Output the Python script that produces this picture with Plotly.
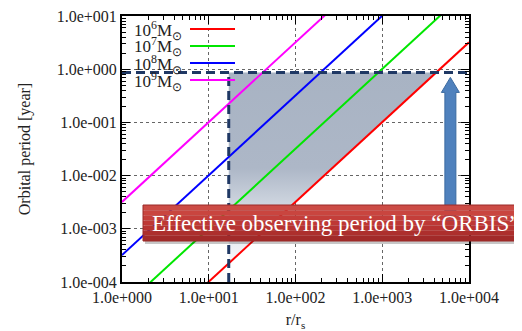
import plotly.graph_objects as go

# ---- data ----
R_ENDS = [1.0, 1.0e4]                      # r/rs at the two ends of each line
PERIOD_1E6 = [3.2e-6, 3.2]                 # orbital period [yr]
PERIOD_1E7 = [3.2e-5, 32.0]
PERIOD_1E8 = [3.2e-4, 320.0]
PERIOD_1E9 = [3.2e-3, 3200.0]
MASS_LABELS = ["10<sup>6</sup>M<sub>⊙</sub>", "10<sup>7</sup>M<sub>⊙</sub>",
               "10<sup>8</sup>M<sub>⊙</sub>", "10<sup>9</sup>M<sub>⊙</sub>"]
MASS_COLORS = ["#ff0000", "#00e600", "#0000ff", "#ff00ff"]

OBS_PERIOD = 0.87       # effective observing period limit [yr]
R_MIN = 17.0            # minimum r/rs
SHADE_R = [17.0, 4250.0, 17.0]
SHADE_T = [0.87, 0.87, 2.2e-4]
ARROW_R = 6100.0

X_TICKS = [1, 10, 100, 1000, 10000]
X_TICKTEXT = ["1.0e+000", "1.0e+001", "1.0e+002", "1.0e+003", "1.0e+004"]
Y_TICKS = [1e-4, 1e-3, 1e-2, 1e-1, 1, 10]
Y_TICKTEXT = ["1.0e-004", "1.0e-003", "1.0e-002", "1.0e-001", "1.0e+000", "1.0e+001"]

BOX_TEXT = "Effective observing period by “ORBIS”"

SERIF = "Liberation Serif"
OFF = 8                      # default page body margin in the browser
W, H = 522 - OFF, 331 - OFF
ML, MR, MT, MB = 122 - OFF, 53, 16 - OFF, 49
PW, PH = W - ML - MR, H - MT - MB


def px_x(p):
    """viewport pixel x -> paper x"""
    return (p - OFF - ML) / PW


def px_y(p):
    """viewport pixel y -> paper y"""
    return (H - MB - (p - OFF)) / PH


fig = go.Figure()

# shaded region
fig.add_trace(go.Scatter(
    x=SHADE_R, y=SHADE_T, mode="lines", fill="toself",
    line=dict(width=0, color="rgba(0,0,0,0)"),
    fillgradient=dict(type="vertical",
                      colorscale=[[0, "#f8f9fb"], [0.25, "#d9dfe7"],
                                  [0.5, "#adb7c7"], [1, "#a8b3c3"]]),
    showlegend=False, hoverinfo="skip"))

# period lines
for vals, col, lab in zip([PERIOD_1E6, PERIOD_1E7, PERIOD_1E8, PERIOD_1E9],
                          MASS_COLORS, MASS_LABELS):
    fig.add_trace(go.Scatter(x=R_ENDS, y=vals, mode="lines",
                             line=dict(color=col, width=2),
                             name=lab, showlegend=False))

# dashed limits
DASH_COL = "#1f3864"
fig.add_trace(go.Scatter(x=[R_ENDS[0], R_ENDS[1]], y=[OBS_PERIOD, OBS_PERIOD],
                         mode="lines", line=dict(color=DASH_COL, width=3, dash="9px,5px"),
                         showlegend=False))
fig.add_trace(go.Scatter(x=[R_MIN, R_MIN], y=[Y_TICKS[0], OBS_PERIOD],
                         mode="lines", line=dict(color=DASH_COL, width=3, dash="9px,5px"),
                         showlegend=False))

shapes = []
# blue arrow (pixel geometry anchored at the data point)
shapes.append(dict(type="path", xref="x", yref="y", xsizemode="pixel", ysizemode="pixel",
                   xanchor=ARROW_R, yanchor=OBS_PERIOD,
                   path="M0,-5 L9,-20 L5.5,-20 L5.5,-150 L-5.5,-150 L-5.5,-20 L-9,-20 Z",
                   fillcolor="#4f81bd", line=dict(color="#3b6aa0", width=1), layer="above"))

# red text box with shadow and a stepped gradient
bx0, bx1, by0, by1 = 143, 524, 205, 241
shapes.append(dict(type="rect", xref="paper", yref="paper",
                   x0=px_x(bx0 + 2), x1=px_x(bx1 + 2), y0=px_y(by1 + 3), y1=px_y(by0 + 3),
                   fillcolor="rgba(0,0,0,0.22)", line=dict(width=0), layer="above"))
band_cols = ["#cc4b45", "#c9453f", "#c43e3a", "#be3835", "#b73331", "#ad2f2d", "#a22a29"]
n = len(band_cols)
for i, c in enumerate(band_cols):
    shapes.append(dict(type="rect", xref="paper", yref="paper",
                       x0=px_x(bx0), x1=px_x(bx1),
                       y1=px_y(by0 + (by1 - by0) * i / n),
                       y0=px_y(by0 + (by1 - by0) * (i + 1) / n),
                       fillcolor=c, line=dict(width=0), layer="above"))
shapes.append(dict(type="rect", xref="paper", yref="paper",
                   x0=px_x(bx0), x1=px_x(bx1), y0=px_y(by1), y1=px_y(by0),
                   fillcolor="rgba(0,0,0,0)", line=dict(color="#9a2a28", width=1), layer="above"))

# manual legend lines (line sample to the right of the text, as in the reference)
legend_rows = [29, 46, 63, 80]
for row, col in zip(legend_rows, MASS_COLORS):
    shapes.append(dict(type="line", xref="paper", yref="paper",
                       x0=px_x(190), x1=px_x(235), y0=px_y(row), y1=px_y(row),
                       line=dict(color=col, width=2)))

annotations = []
for row, lab in zip(legend_rows, MASS_LABELS):
    annotations.append(dict(xref="paper", yref="paper", x=px_x(184), y=px_y(row + 1),
                            xanchor="right", yanchor="middle", showarrow=False,
                            text=lab, font=dict(family=SERIF, size=17, color="#222")))
annotations.append(dict(xref="paper", yref="paper", x=px_x(335), y=px_y((by0 + by1) / 2),
                        xanchor="center", yanchor="middle", showarrow=False,
                        text=BOX_TEXT, font=dict(family=SERIF, size=23, color="white")))

axis_common = dict(type="log", showline=True, linecolor="black", linewidth=2, mirror="allticks",
                   ticks="inside", ticklen=8, tickwidth=1, tickcolor="black",
                   showgrid=True, gridcolor="#666", griddash="dot", gridwidth=1,
                   zeroline=False, ticklabeloverflow="allow",
                   tickfont=dict(family=SERIF, size=16, color="#222"))

minor_x = [m * 10 ** k for k in range(0, 4) for m in range(2, 10)]
minor_y = [m * 10 ** k for k in range(-4, 1) for m in range(2, 10)]

fig.update_xaxes(**axis_common, range=[0, 4], tickmode="array", tickvals=X_TICKS,
                 ticktext=X_TICKTEXT,
                 minor=dict(tickmode="array", tickvals=minor_x, ticks="inside", ticklen=4,
                            tickcolor="black", showgrid=False),
                 title=dict(text="r/r<sub>s</sub>", font=dict(family=SERIF, size=16, color="#222"),
                            standoff=9))
fig.update_yaxes(**axis_common, range=[-4, 1], tickmode="array", tickvals=Y_TICKS,
                 ticktext=Y_TICKTEXT,
                 minor=dict(tickmode="array", tickvals=minor_y, ticks="inside", ticklen=4,
                            tickcolor="black", showgrid=False),
                 title=dict(text="Orbital period [year]",
                            font=dict(family=SERIF, size=16, color="#222"), standoff=22))

fig.update_layout(width=W, height=H, margin=dict(l=ML, r=MR, t=MT, b=MB, autoexpand=False),
                  paper_bgcolor="white", plot_bgcolor="white",
                  shapes=shapes, annotations=annotations, showlegend=False)

fig.write_html("out.html")
